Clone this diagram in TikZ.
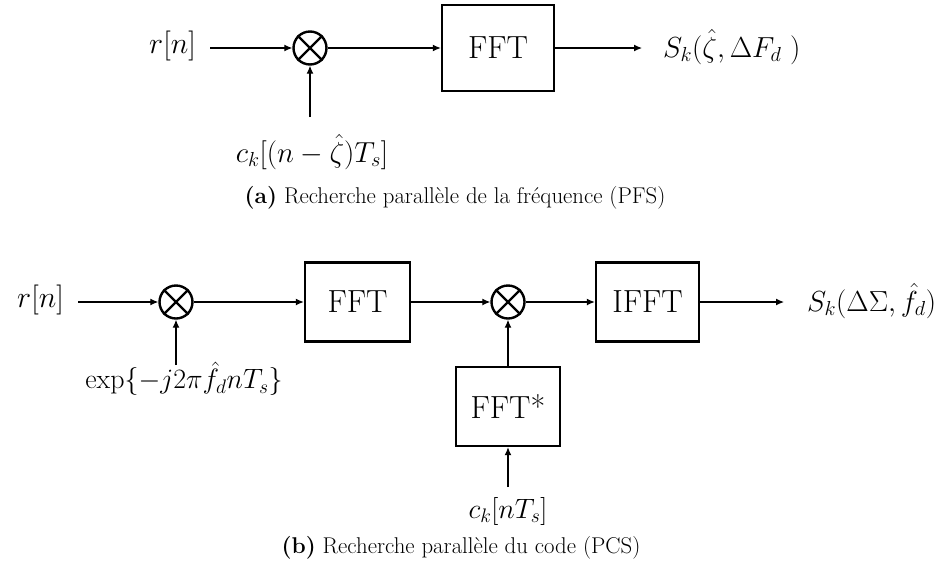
\RequirePackage{fix-cm}
\documentclass[tikz,border=0pt]{standalone}
\usepackage{amsmath}
\usetikzlibrary{arrows.meta}
\begin{document}
\begin{tikzpicture}[x=1pt,y=-1pt,
  lbl/.style={inner sep=0pt,font=\fontsize{28}{32}\selectfont},
  blk/.style={draw,line width=2.4pt,inner sep=0pt,font=\fontsize{32}{36}\selectfont},
  mult/.style={draw,circle,line width=2.4pt,minimum size=33pt,inner sep=0pt},
  con/.style={line width=1.2pt,-{Latex[length=8pt,width=7pt]}},
  captxt/.style={inner sep=0pt,font=\fontsize{22.8}{26}\selectfont}]
\useasboundingbox (0,0) rectangle (947,574);
% ---------- (a) ----------
\node[lbl,anchor=east,font=\fontsize{30}{34}\selectfont] (ra) at (196,46) {$r[n]$};
\node[mult] (ma) at (310,48) {};
\draw[line width=2.4pt] (ma.north west) -- (ma.south east) (ma.north east) -- (ma.south west);
\node[blk,minimum width=112pt,minimum height=86pt] (ffta) at (498,48) {FFT};
\node[lbl,font=\fontsize{29}{33}\selectfont] (ca) at (312,152) {$c_k[(n-\hat{\zeta})T_s]$};
\node[lbl,anchor=west,font=\fontsize{29}{33}\selectfont] (sa) at (663,47) {$S_k(\hat{\zeta},\Delta F_d\ )$};
\coordinate (ina) at (210,48);
\coordinate (cua) at (310,117);
\coordinate (outa) at (642,48);
\draw[con] (ina) -- (ma);
\draw[con] (cua) -- (ma);
\draw[con] (ma) -- (ffta);
\draw[con] (ffta) -- (outa);
\node[captxt] (capa) at (455,198) {\textbf{(a)} Recherche parallèle de la fréquence (PFS)};
% ---------- (b) ----------
\node[lbl,anchor=east,font=\fontsize{30}{34}\selectfont] (rb) at (64,300) {$r[n]$};
\node[mult] (mb1) at (176,302) {};
\draw[line width=2.4pt] (mb1.north west) -- (mb1.south east) (mb1.north east) -- (mb1.south west);
\node[blk,minimum width=105pt,minimum height=79pt] (fftb) at (357.5,302) {FFT};
\node[mult] (mb2) at (508,302) {};
\draw[line width=2.4pt] (mb2.north west) -- (mb2.south east) (mb2.north east) -- (mb2.south west);
\node[blk,minimum width=103pt,minimum height=79pt] (ifft) at (647.5,302) {IFFT};
\node[blk,minimum width=104pt,minimum height=79pt] (fftc) at (508,406.5) {FFT*};
\node[lbl] (eb) at (184,379) {$\exp\{-j2\pi\hat{f}_d nT_s\}$};
\node[lbl] (cb) at (508,511) {$c_k[nT_s]$};
\node[lbl,anchor=west,font=\fontsize{29}{33}\selectfont] (sb) at (807,301) {$S_k(\Delta\Sigma,\hat{f}_d)$};
\coordinate (inb) at (78,302);
\coordinate (cub) at (176,365);
\coordinate (cuc) at (508,487);
\coordinate (outb) at (784,302);
\draw[con] (inb) -- (mb1);
\draw[con] (cub) -- (mb1);
\draw[con] (mb1) -- (fftb);
\draw[con] (fftb) -- (mb2);
\draw[con] (fftc) -- (mb2);
\draw[con] (cuc) -- (fftc);
\draw[con] (mb2) -- (ifft);
\draw[con] (ifft) -- (outb);
\node[captxt] (capb) at (461,548) {\textbf{(b)} Recherche parallèle du code (PCS)};
\end{tikzpicture}
\end{document}
